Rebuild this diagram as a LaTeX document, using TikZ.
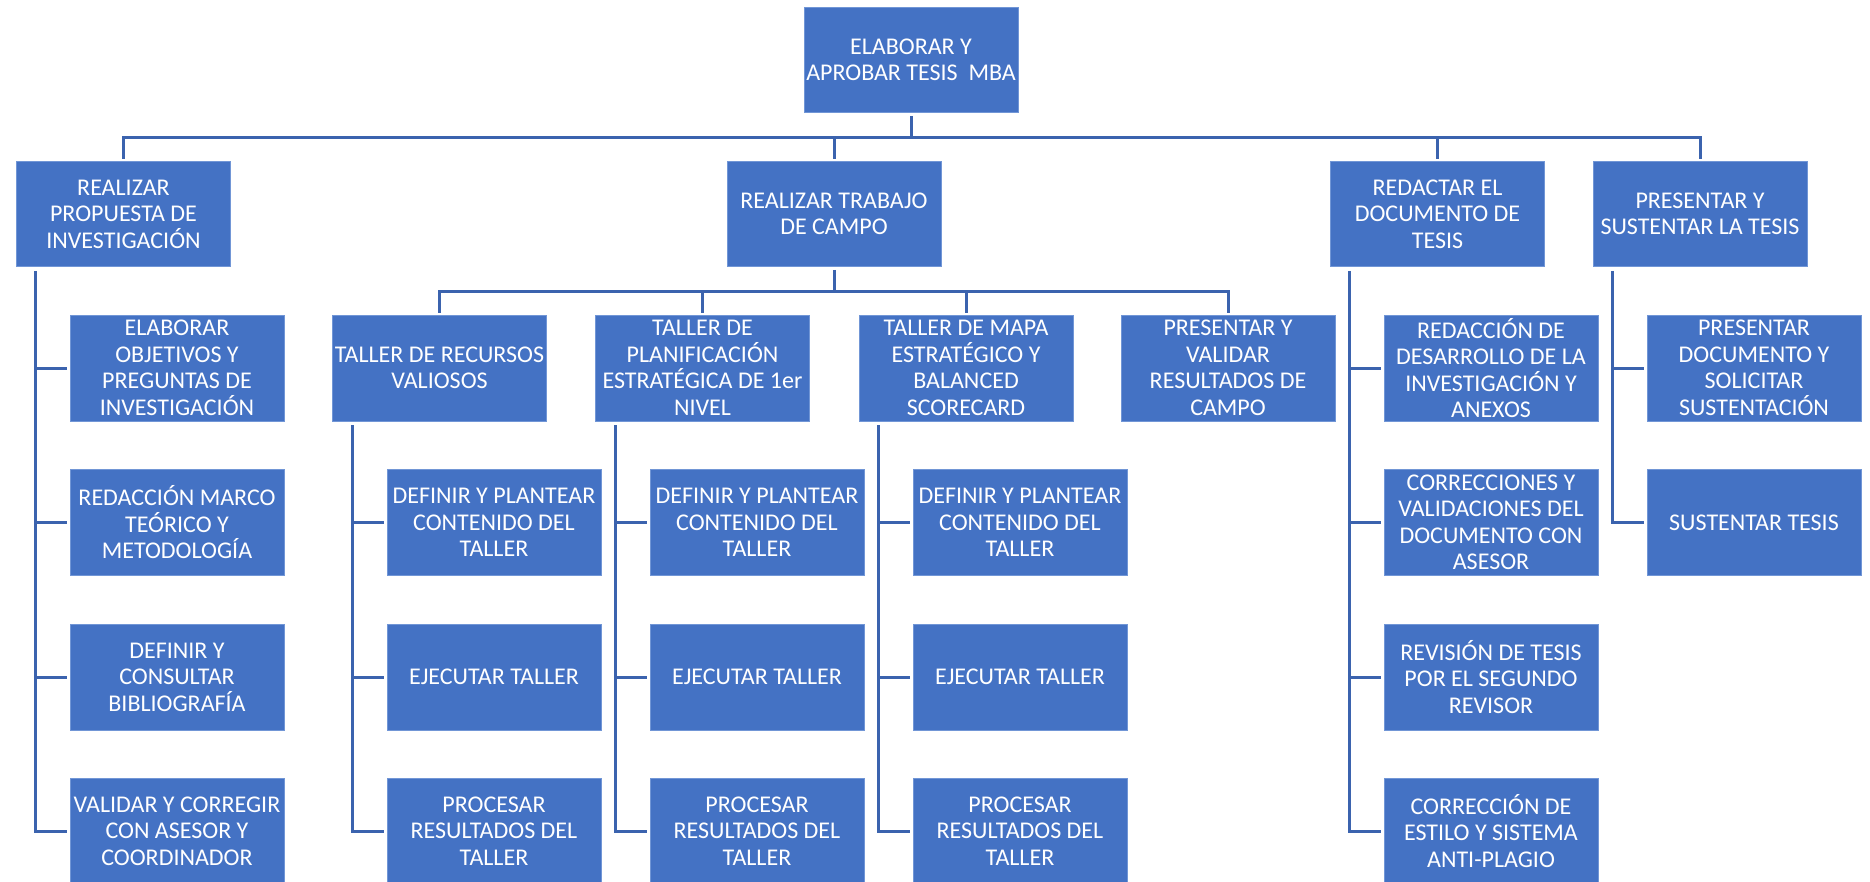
\documentclass[tikz,border=0pt]{standalone}
\usepackage{fontspec}
\setmainfont{Carlito}
\definecolor{boxblue}{HTML}{4472C4}
\definecolor{edgeblue}{HTML}{7196D6}
\definecolor{lineblue}{HTML}{3B63AE}
\begin{document}
\begin{tikzpicture}[x=1pt,y=-1pt,
  box/.style={rectangle, fill=boxblue, draw=edgeblue, line width=0.8pt, text=white,
    minimum width=214pt, minimum height=106pt, inner sep=0pt, align=center,
    font=\fontsize{24}{26.5}\selectfont},
  hbox/.style={box, minimum height=105pt},
  conn/.style={draw=lineblue, line width=3pt}]
\useasboundingbox (0,0) rectangle (1870,882);
\clip (0,0) rectangle (1870,882);
% top
\node[hbox] (top) at (911,60) {ELABORAR Y\\APROBAR TESIS\ \ MBA};
% level 1
\node[hbox] (l1a) at (123.5,214) {REALIZAR\\PROPUESTA DE\\INVESTIGACIÓN};
\node[hbox] (l1b) at (834,214) {REALIZAR TRABAJO\\DE CAMPO};
\node[hbox] (l1c) at (1437.5,214) {REDACTAR EL\\DOCUMENTO DE\\TESIS};
\node[hbox] (l1d) at (1700,214) {PRESENTAR Y\\SUSTENTAR LA TESIS};
% column a
\node[box] (a1) at (177,368) {ELABORAR\\OBJETIVOS Y\\PREGUNTAS DE\\INVESTIGACIÓN};
\node[box] (a2) at (177,522.5) {REDACCIÓN MARCO\\TEÓRICO Y\\METODOLOGÍA};
\node[box] (a3) at (177,677) {DEFINIR Y\\CONSULTAR\\BIBLIOGRAFÍA};
\node[box] (a4) at (177,831) {VALIDAR Y CORREGIR\\CON ASESOR Y\\COORDINADOR};
% talleres
\node[box] (t1) at (439.5,368) {TALLER DE RECURSOS\\VALIOSOS};
\node[box] (t2) at (702.5,368) {TALLER DE\\PLANIFICACIÓN\\ESTRATÉGICA DE 1er\\NIVEL};
\node[box] (t3) at (966,368) {TALLER DE MAPA\\ESTRATÉGICO Y\\BALANCED\\SCORECARD};
\node[box] (pv) at (1228,368) {PRESENTAR Y\\VALIDAR\\RESULTADOS DE\\CAMPO};
\node[box] (t1a) at (494,522.5) {DEFINIR Y PLANTEAR\\CONTENIDO DEL\\TALLER};
\node[box] (t1b) at (494,677) {EJECUTAR TALLER};
\node[box] (t1c) at (494,831) {PROCESAR\\RESULTADOS DEL\\TALLER};
\node[box] (t2a) at (757,522.5) {DEFINIR Y PLANTEAR\\CONTENIDO DEL\\TALLER};
\node[box] (t2b) at (757,677) {EJECUTAR TALLER};
\node[box] (t2c) at (757,831) {PROCESAR\\RESULTADOS DEL\\TALLER};
\node[box] (t3a) at (1020,522.5) {DEFINIR Y PLANTEAR\\CONTENIDO DEL\\TALLER};
\node[box] (t3b) at (1020,677) {EJECUTAR TALLER};
\node[box] (t3c) at (1020,831) {PROCESAR\\RESULTADOS DEL\\TALLER};
% column c
\node[box] (c1) at (1491,368) {REDACCIÓN DE\\DESARROLLO DE LA\\INVESTIGACIÓN Y\\ANEXOS};
\node[box] (c2) at (1491,522.5) {CORRECCIONES Y\\VALIDACIONES DEL\\DOCUMENTO CON\\ASESOR};
\node[box] (c3) at (1491,677) {REVISIÓN DE TESIS\\POR EL SEGUNDO\\REVISOR};
\node[box] (c4) at (1491,831) {CORRECCIÓN DE\\ESTILO Y SISTEMA\\ANTI-PLAGIO};
% column d
\node[box] (d1) at (1754,368) {PRESENTAR\\DOCUMENTO Y\\SOLICITAR\\SUSTENTACIÓN};
\node[box] (d2) at (1754,522.5) {SUSTENTAR TESIS};
% connectors top
\coordinate (busA) at (911,138);
\draw[conn] ([yshift=-3pt]top.south) -- (busA);
\draw[conn] (busA) -| ([yshift=2pt]l1a.north);
\draw[conn] (busA) -| ([yshift=2pt]l1b.north);
\draw[conn] (busA) -| ([yshift=2pt]l1c.north);
\draw[conn] (busA) -| ([yshift=2pt]l1d.north);
% connectors trabajo de campo
\coordinate (busB) at (834,292);
\draw[conn] ([yshift=-3pt]l1b.south) -- (busB);
\draw[conn] (busB) -| ([yshift=2pt]t1.north);
\draw[conn] (busB) -| ([yshift=2pt]t2.north);
\draw[conn] (busB) -| ([yshift=2pt]t3.north);
\draw[conn] (busB) -| ([yshift=2pt]pv.north);
% spines
\foreach \p/\o/\ch in {l1a/19/{a1,a2,a3}, t1/20/{t1a,t1b}, t2/20/{t2a,t2b}, t3/19.5/{t3a,t3b}, l1c/19/{c1,c2,c3}}{
  \foreach \c in \ch {
    \draw[conn] ([xshift=\o pt]\p.south west |- \c.west) -- ([xshift=-3pt]\c.west);
  }
}
\draw[conn] ([xshift=19pt,yshift=-4pt]l1a.south west) |- ([xshift=-3pt]a4.west);
\draw[conn] ([xshift=20pt,yshift=-4pt]t1.south west) |- ([xshift=-3pt]t1c.west);
\draw[conn] ([xshift=20pt,yshift=-4pt]t2.south west) |- ([xshift=-3pt]t2c.west);
\draw[conn] ([xshift=19.5pt,yshift=-4pt]t3.south west) |- ([xshift=-3pt]t3c.west);
\draw[conn] ([xshift=19pt,yshift=-4pt]l1c.south west) |- ([xshift=-3pt]c4.west);
\draw[conn] ([xshift=19.5pt,yshift=-4pt]l1d.south west) |- ([xshift=-3pt]d2.west);
\draw[conn] ([xshift=19.5pt]l1d.south west |- d1.west) -- ([xshift=-3pt]d1.west);
\end{tikzpicture}
\end{document}
